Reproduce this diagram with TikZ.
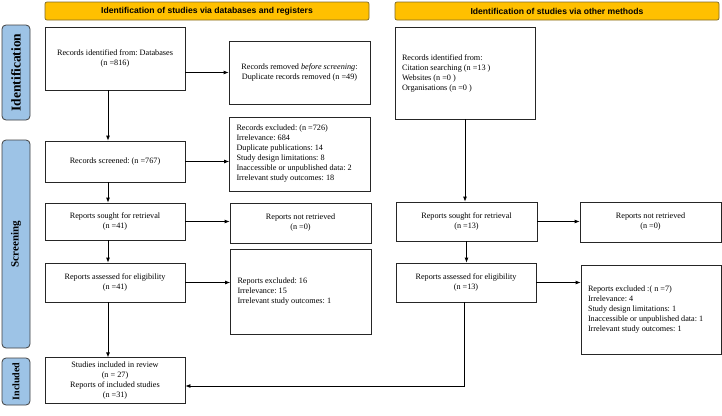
\documentclass[tikz,border=0pt]{standalone}
\usepackage{fontspec}
\setmainfont{Liberation Serif}
\newfontfamily\hdrfont{Liberation Sans}
\usetikzlibrary{arrows.meta,calc}
\definecolor{hdrorange}{HTML}{FFC000}
\definecolor{hdrline}{HTML}{7F6A2A}
\definecolor{sideblue}{HTML}{9DC3E6}
\definecolor{sideline}{HTML}{404040}

\begin{document}
\begin{tikzpicture}[x=1pt,y=-1pt]
\tikzset{box/.style ={draw=black!85, line width=0.8pt, fill=white, inner sep=4pt,
  font=\fontsize{8.2}{10}\selectfont\frenchspacing, align=center}}
\tikzset{listbox/.style ={box, align=flush left, inner xsep=7pt}}
\tikzset{header/.style ={draw=hdrline, line width=0.7pt, fill=hdrorange, rounded corners=2pt,
  minimum width=324pt, minimum height=18pt, font=\hdrfont\bfseries\fontsize{8.6}{10}\selectfont}}
\tikzset{side/.style ={draw=sideline, line width=0.8pt, fill=sideblue, rounded corners=4pt,
  rotate=90, minimum height=28pt, inner sep=0pt, font=\bfseries}}
\tikzset{flow/.style ={-{Latex[length=5pt,width=4pt]}, line width=0.8pt, black}}
\useasboundingbox (0,0) rectangle (722,415);
\node[header] (hdrdb) at (207,11) {Identification of studies via databases and registers};
\node[header] (hdrother) at (557,11) {Identification of studies via other methods};
\node[side, minimum width=95pt, font=\bfseries\fontsize{13.5}{15}\selectfont] (sideid) at (16,72.5) {Identification};
\node[side, minimum width=208pt, font=\bfseries\fontsize{11}{13}\selectfont] (sidescr) at (16,244) {Screening};
\node[side, minimum width=47pt, font=\bfseries\fontsize{10}{12}\selectfont] (sideinc) at (16,381.5) {Included};
\node[box, minimum width=140pt, minimum height=63pt] (dbid) at (115,58.5) {Records identified from: Databases\\(n =816)};
\node[box, minimum width=141pt, minimum height=63pt] (dbremoved) at (299.5,72.5) {Records removed \textit{before screening}:\\Duplicate records removed (n =49)};
\node[box, minimum width=140pt, minimum height=41pt] (dbscreened) at (115,161.5) {Records screened: (n =767)};
\node[listbox, text width=127pt, minimum height=74pt] (dbexcluded) at (300,154) {Records excluded: (n =726)\\Irrelevance: 684\\Duplicate publications: 14\\Study design limitations: 8\\Inaccessible or unpublished data: 2\\Irrelevant study outcomes: 18};
\node[box, minimum width=140pt, minimum height=37pt] (dbsought) at (115,221.5) {Reports sought for retrieval\\(n =41)};
\node[box, minimum width=141pt, minimum height=40pt] (dbnotret) at (300.5,223) {Reports not retrieved\\(n =0)};
\node[box, minimum width=140pt, minimum height=39pt] (dbassessed) at (115,282.5) {Reports assessed for eligibility\\(n =41)};
\node[listbox, text width=127pt, minimum height=85pt] (dbrepexcl) at (301,291.5) {Reports excluded: 16\\Irrelevance: 15\\Irrelevant study outcomes: 1\\[6pt]};
\node[box, minimum width=140pt, minimum height=45pt] (included) at (115,380.5) {Studies included in review\\(n = 27)\\Reports of included studies\\(n =31)};
\node[listbox, text width=126pt, minimum height=92pt] (otherid) at (465,73) {Records identified from:\\Citation searching (n =13 )\\Websites (n =0 )\\Organisations (n =0 )};
\node[box, minimum width=141pt, minimum height=39pt] (othersought) at (466.5,221.5) {Reports sought for retrieval\\(n =13)};
\node[box, minimum width=141pt, minimum height=40pt] (othernotret) at (650.5,222) {Reports not retrieved\\(n =0)};
\node[box, minimum width=140pt, minimum height=39pt] (otherassessed) at (466,282.5) {Reports assessed for eligibility\\(n =13)};
\node[listbox, text width=126pt, minimum height=89pt] (otherexcl) at (651,309.5) {Reports excluded :( n =7)\\Irrelevance: 4\\Study design limitations: 1\\Inaccessible or unpublished data: 1\\Irrelevant study outcomes: 1\\[2pt]};
\draw[flow] ([xshift=-7pt]dbid.south) -- ([xshift=-7pt]dbscreened.north);
\draw[flow] ([xshift=-7pt]dbscreened.south) -- ([xshift=-7pt]dbsought.north);
\draw[flow] ([xshift=-7pt]dbsought.south) -- ([xshift=-7pt]dbassessed.north);
\draw[flow] ([xshift=-7pt]dbassessed.south) -- ([xshift=-7pt]included.north);
\draw[flow] (dbid.east |- dbremoved.west) -- (dbremoved.west);
\draw[flow] (dbscreened.east) -- (dbscreened.east -| dbexcluded.west);
\draw[flow] (dbsought.east) -- (dbsought.east -| dbnotret.west);
\draw[flow] (dbassessed.east) -- (dbassessed.east -| dbrepexcl.west);
\draw[flow] (otherid.south) -- (otherid.south |- othersought.north);
\draw[flow] (othersought.south) -- (othersought.south |- otherassessed.north);
\draw[flow] (othersought.east) -- (othersought.east -| othernotret.west);
\draw[flow] (otherassessed.east) -- (otherassessed.east -| otherexcl.west);
\draw[flow] ([xshift=-2pt]otherassessed.south) |- ([yshift=-5.5pt]included.east);
\end{tikzpicture}
\end{document}
